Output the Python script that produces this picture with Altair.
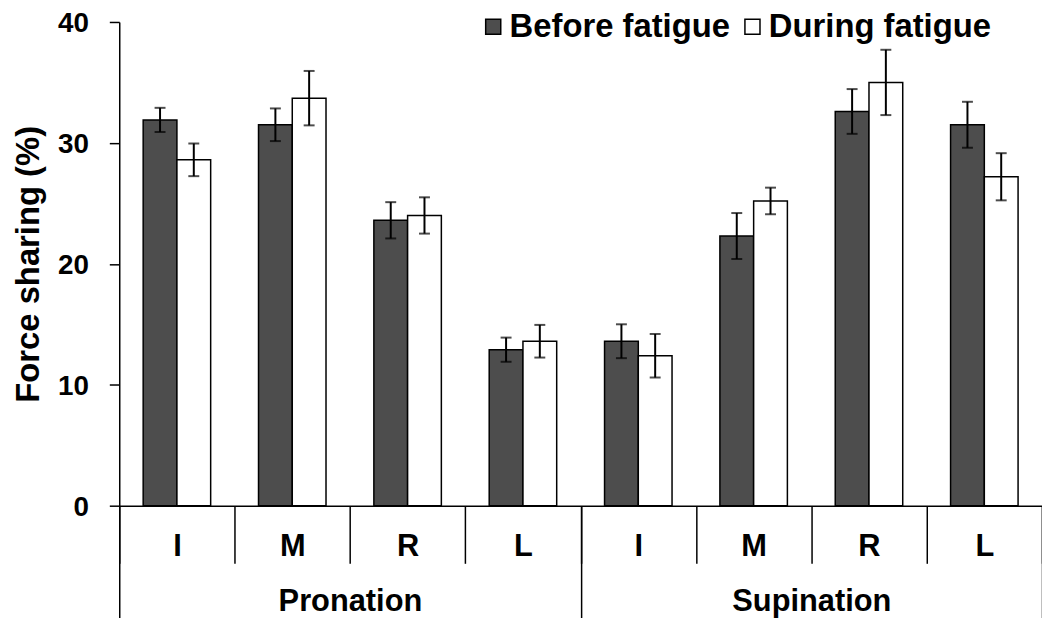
import altair as alt
import pandas as pd

groups = ["Pronation"] * 4 + ["Supination"] * 4
fingers = ["I", "M", "R", "L", "I", "M", "R", "L"]
series_names = ["Before fatigue", "During fatigue"]
before = [31.9, 31.5, 23.6, 12.9, 13.6, 22.3, 32.6, 31.5]
before_err = [1.0, 1.35, 1.5, 1.0, 1.4, 1.9, 1.85, 1.9]
during = [28.6, 33.7, 24.0, 13.6, 12.4, 25.2, 35.0, 27.2]
during_err = [1.35, 2.25, 1.5, 1.35, 1.8, 1.1, 2.7, 1.95]
y_ticks = [0, 10, 20, 30, 40]
group_names = ["Pronation", "Supination"]

keys = [f"{g}|{f}" for g, f in zip(groups, fingers)]
rows = []
for k, g, f, b, be, d, de in zip(keys, groups, fingers, before, before_err, during, during_err):
    rows.append(dict(key=k, group=g, finger=f, series=series_names[0], value=b, lo=b - be, hi=b + be))
    rows.append(dict(key=k, group=g, finger=f, series=series_names[1], value=d, lo=d - de, hi=d + de))
df = pd.DataFrame(rows)
gdf = pd.DataFrame({"group": group_names})

FONT = "Liberation Sans"

x_enc = alt.X(
    "key:N",
    sort=keys,
    scale=alt.Scale(paddingInner=0, paddingOuter=0),
    axis=alt.Axis(
        orient="bottom",
        title=None,
        labelExpr="split(datum.label, '|')[1]",
        labelAngle=0,
        tickBand="extent",
        tickSize=58,
        tickWidth=1.5,
        tickColor="black",
        domainColor="black",
        domainWidth=1.5,
        labelPadding=-32,
        labelFontSize=31,
        labelFontWeight="bold",
        labelColor="black",
    ),
)
x_plain = alt.X("key:N", sort=keys, scale=alt.Scale(paddingInner=0, paddingOuter=0), axis=None)
xoff = alt.XOffset("series:N", sort=series_names,
                   scale=alt.Scale(paddingInner=0, paddingOuter=0.709))

y_enc = alt.Y(
    "value:Q",
    scale=alt.Scale(domain=[0, 40], nice=False, zero=True),
    axis=alt.Axis(
        title="Force sharing (%)",
        values=y_ticks,
        grid=False,
        tickSize=10,
        tickWidth=1.5,
        tickColor="black",
        domainColor="black",
        domainWidth=1.5,
        labelPadding=21,
        labelOffset=2,
        labelFontSize=28,
        labelFontWeight="bold",
        labelColor="black",
        titleFontSize=33,
        titleFontWeight="bold",
        titleColor="black",
        titlePadding=12,
    ),
)

bars = alt.Chart(df).mark_bar(stroke="black", strokeWidth=1.5).encode(
    x=x_enc,
    xOffset=xoff,
    y=y_enc,
    color=alt.Color(
        "series:N",
        sort=series_names,
        scale=alt.Scale(domain=series_names, range=["#4d4d4d", "#ffffff"]),
        legend=alt.Legend(
            title=None,
            orient="none",
            legendX=360,
            legendY=-12,
            direction="horizontal",
            labelFontSize=33,
            labelFontWeight="bold",
            labelColor="black",
            labelLimit=0,
            symbolType="square",
            symbolSize=230,
            symbolStrokeColor="black",
            symbolStrokeWidth=1.5,
            labelOffset=0,
            columnPadding=6,
            padding=0,
        ),
    ),
)

rules = alt.Chart(df).mark_rule(color="black", strokeWidth=2).encode(
    x=x_plain, xOffset=xoff, y=alt.Y("lo:Q"), y2="hi:Q"
)
caps_lo = alt.Chart(df).mark_tick(color="black", size=11, thickness=2).encode(
    x=x_plain, xOffset=xoff, y=alt.Y("lo:Q")
)
caps_hi = alt.Chart(df).mark_tick(color="black", size=11, thickness=2).encode(
    x=x_plain, xOffset=xoff, y=alt.Y("hi:Q")
)

group_layer = alt.Chart(gdf).mark_point(opacity=0).encode(
    x=alt.X(
        "group:N",
        sort=group_names,
        scale=alt.Scale(type="band", paddingInner=0, paddingOuter=0),
        axis=alt.Axis(
            orient="bottom",
            title=None,
            domain=False,
            labelAngle=0,
            tickBand="extent",
            tickSize=119,
            tickWidth=1.5,
            tickColor="black",
            labelPadding=-37,
            labelFontSize=31,
            labelFontWeight="bold",
            labelColor="black",
        ),
    ),
    y=alt.value(0),
)

chart = (
    alt.layer(bars, rules, caps_lo, caps_hi, group_layer)
    .resolve_scale(x="independent")
    .properties(
        width=929,
        height=487,
        autosize=alt.AutoSizeParams(type="none"),
        padding={"left": 112, "top": 12, "right": 0, "bottom": 111},
    )
    .configure(font=FONT)
    .configure_view(stroke="transparent")
)

chart.save("out.html", embed_options={"renderer": "svg", "actions": False})
